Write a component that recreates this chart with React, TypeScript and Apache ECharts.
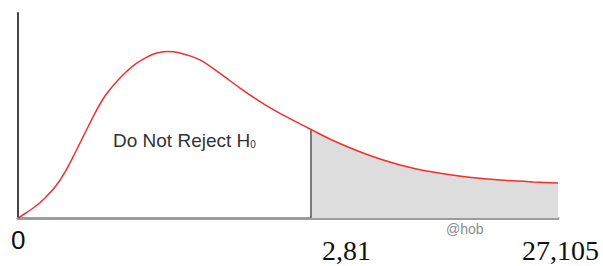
import React, { useEffect, useRef } from "react";
import * as echarts from "echarts";

// curve of the distribution (x in arbitrary units, y density scaled 0..1)
const curveX = [0, 0.2, 1.7, 2.7, 3.7, 4.7, 5.7, 6.7, 7.7, 8.7, 9.7, 10.7, 11.7, 12.7, 13.7, 14.9, 16.2, 18.2, 20.2, 22.2, 24.2, 26.2, 28.2, 29.3, 31.5, 34.9, 38.2, 41.5, 44.9, 48.2, 51.5, 54];
const curveY = [0, 0.006, 0.055, 0.098, 0.151, 0.224, 0.317, 0.415, 0.512, 0.595, 0.656, 0.707, 0.749, 0.78, 0.802, 0.812, 0.805, 0.771, 0.705, 0.634, 0.568, 0.51, 0.459, 0.432, 0.378, 0.31, 0.259, 0.224, 0.2, 0.185, 0.176, 0.171];
const criticalX = 29.3;
const xMax = 54;
const tickLabels = ["0", "2,81", "27,105"];
const regionLabels = ["Do Not Reject H", "Reject H"];
const subscript = "0";
const watermark = "@hob";

export default function App() {
  const ref = useRef<HTMLDivElement>(null);
  useEffect(() => {
    document.body.style.margin = "0";
    const chart = echarts.init(ref.current!, null, { renderer: "svg" });
    const full = curveX.map((x, i) => [x, curveY[i]]);
    const tail = full.filter((p) => p[0] >= criticalX);
    const critY = curveY[curveX.indexOf(criticalX)];
    const textColor = "#333";
    const richFor = (size: number) => ({
      m: { fontFamily: "Liberation Sans", fontSize: size, fill: textColor, verticalAlign: "bottom" },
      s: { fontFamily: "Liberation Sans", fontSize: 10, fill: textColor, verticalAlign: "bottom" },
    });
    chart.setOption({
      animation: false,
      grid: { left: 18, right: 45, top: 13, bottom: 48 },
      xAxis: {
        type: "value",
        min: 0,
        max: xMax,
        axisLine: { show: true, lineStyle: { color: "#9c9c9c", width: 3 } },
        axisTick: { show: false },
        axisLabel: { show: false },
        splitLine: { show: false },
      },
      yAxis: {
        type: "value",
        min: 0,
        max: 1,
        axisLine: { show: true, onZero: false, lineStyle: { color: "#444", width: 2 } },
        axisTick: { show: false },
        axisLabel: { show: false },
        splitLine: { show: false },
      },
      series: [
        {
          type: "line",
          data: tail,
          smooth: 0.3,
          symbol: "none",
          lineStyle: { width: 0, opacity: 0 },
          areaStyle: { color: "#dddddd", opacity: 1 },
          z: 1,
        },
        {
          type: "line",
          data: [
            [criticalX, 0],
            [criticalX, critY],
          ],
          symbol: "none",
          lineStyle: { color: "#7a7a7a", width: 2 },
          z: 2,
        },
        {
          type: "line",
          data: full,
          smooth: 0.3,
          symbol: "none",
          lineStyle: { color: "#f03030", width: 1.5 },
          z: 3,
        },
      ],
      graphic: [
        {
          type: "text",
          x: 113,
          y: 140,
          style: {
            text: `{m|${regionLabels[0]}}{s|${subscript}}`,
            verticalAlign: "middle",
            rich: richFor(19),
          },
        },
        {
          type: "text",
          x: 369,
          y: 196,
          style: {
            text: `{m|${regionLabels[1]}}{s|${subscript}}`,
            verticalAlign: "middle",
            rich: richFor(18),
          },
        },
        {
          type: "text",
          x: 11,
          y: 240,
          style: { text: tickLabels[0], fontFamily: "Liberation Sans", fontSize: 26, fill: "#111", verticalAlign: "middle" },
        },
        {
          type: "text",
          x: 322,
          y: 250,
          style: { text: tickLabels[1], fontFamily: "Liberation Serif", fontSize: 28, fill: "#111", verticalAlign: "middle" },
        },
        {
          type: "text",
          x: 522,
          y: 250,
          style: { text: tickLabels[2], fontFamily: "Liberation Serif", fontSize: 28, fill: "#111", verticalAlign: "middle" },
        },
        {
          type: "text",
          x: 446,
          y: 229,
          style: { text: watermark, fontFamily: "Liberation Sans", fontSize: 14, fill: "#8a8a8a", verticalAlign: "middle" },
        },
      ],
    });
    return () => chart.dispose();
  }, []);
  return <div ref={ref} style={{ width: 603, height: 266 }} />;
}
